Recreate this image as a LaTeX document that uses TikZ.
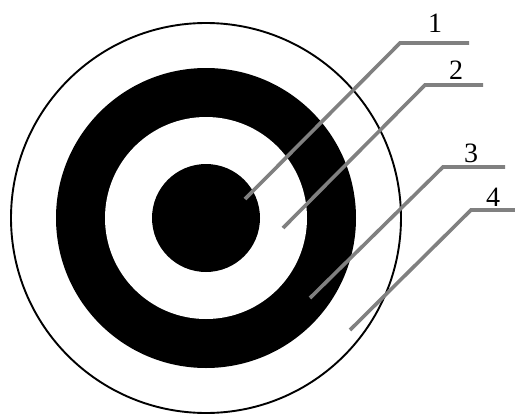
\documentclass[tikz,border=0pt]{standalone}
\usepackage{fontspec}
\setmainfont{Liberation Serif}

\begin{document}
\begin{tikzpicture}[
    x=1pt,
    y=-1pt,
    leader/.style={draw=gray, line width=3.6pt},
    numlabel/.style={anchor=base, inner sep=0pt, font=\fontsize{28pt}{28pt}\selectfont}
]
\useasboundingbox (0,0) rectangle (515,418);

% 1. Target rings
\coordinate (centre) at (206,218);
\draw[line width=1.9pt] (centre) circle (195pt);
\fill[black] (centre) circle (150pt);
\fill[white] (centre) circle (101pt);
\fill[black] (centre) circle (54pt);

% 2. Leader lines with numbers
% number / tip / elbow / end of shelf / label x / label baseline
\foreach \n/\tx/\ty/\ex/\ey/\sx/\lx/\ly in {
    1/245/199/400/43/469/435/32,
    2/283/228/425/85/483/456/79,
    3/310/298/443/167/505/471/162,
    4/350/330/471/210/515/493/206} {
    \coordinate (tip\n) at (\tx,\ty);
    \coordinate (elbow\n) at (\ex,\ey);
    \coordinate (shelf\n) at (\sx,\ey);
    \draw[leader] (tip\n) -- (elbow\n) -- (shelf\n);
    \node[numlabel] (label\n) at (\lx,\ly) {\n};
}

\end{tikzpicture}
\end{document}
